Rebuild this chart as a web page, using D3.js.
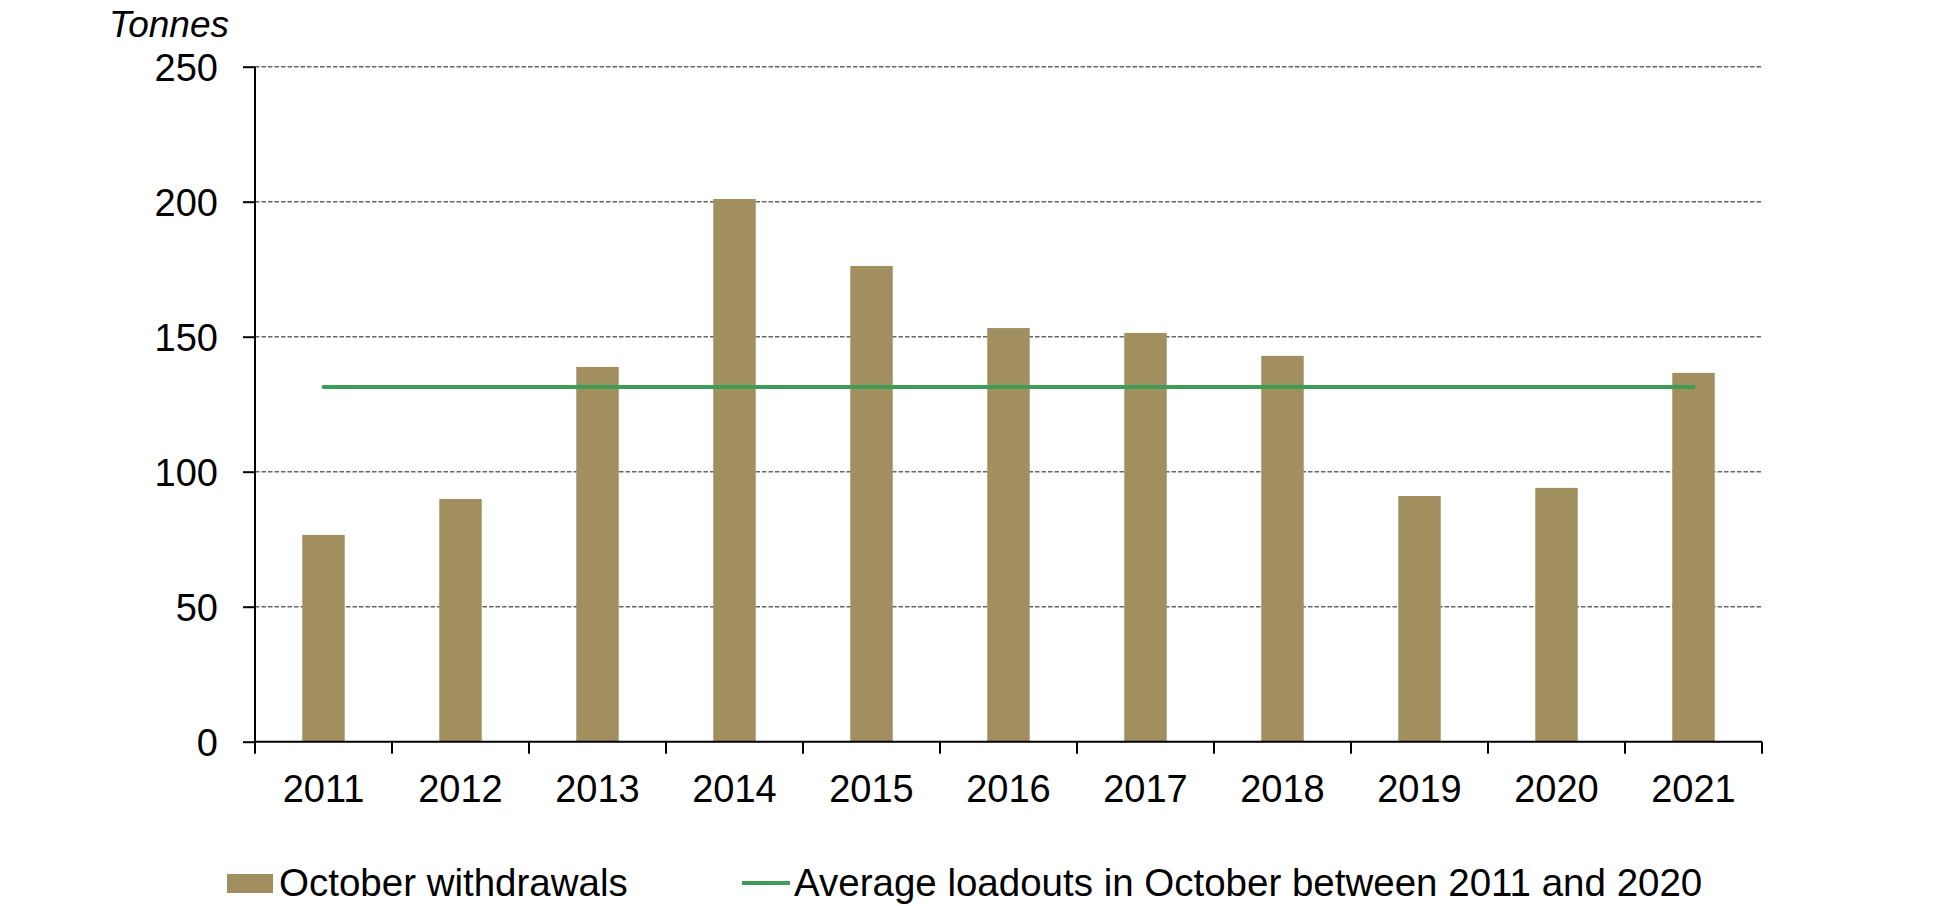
<!DOCTYPE html>
<html>
<head>
<meta charset="utf-8">
<script src="https://cdn.jsdelivr.net/npm/d3@7"></script>
<style>
  body { margin: 0; background: #fff; }
  text { font-family: "Liberation Sans", Arial, sans-serif; fill: #000; }
</style>
</head>
<body>
<div id="chart"></div>
<script>
// datos
const years = ["2011", "2012", "2013", "2014", "2015", "2016", "2017", "2018", "2019", "2020", "2021"];
const withdrawals = [76.6, 89.9, 138.8, 201, 176.2, 153.2, 151.4, 142.9, 91.0, 94.0, 136.6];
const averageLoadouts = 131.4;
const yTicks = [0, 50, 100, 150, 200, 250];

const width = 1938, height = 906;
const plotLeft = 255, plotRight = 1762, plotTop = 66.7, plotBottom = 741.7;

const svg = d3.select("#chart").append("svg")
  .attr("width", width)
  .attr("height", height);

const x = d3.scaleBand()
  .domain(years)
  .range([plotLeft, plotRight])
  .paddingInner(0.69)
  .paddingOuter(0.345);

const y = d3.scaleLinear()
  .domain([0, 250])
  .range([plotBottom, plotTop]);

// lineas de cuadricula
svg.append("g")
  .selectAll("line")
  .data(yTicks.filter(d => d > 0))
  .enter().append("line")
  .attr("x1", plotLeft).attr("x2", plotRight)
  .attr("y1", d => y(d)).attr("y2", d => y(d))
  .attr("stroke", "#666")
  .attr("stroke-width", 1.5)
  .attr("stroke-dasharray", "4.5,2");

// barras
svg.append("g")
  .selectAll("rect")
  .data(years)
  .enter().append("rect")
  .attr("x", d => x(d))
  .attr("y", (d, i) => y(withdrawals[i]))
  .attr("width", x.bandwidth())
  .attr("height", (d, i) => y(0) - y(withdrawals[i]))
  .attr("fill", "#a28f5f");

// linea del promedio
const center = d => x(d) + x.bandwidth() / 2;
svg.append("path")
  .datum([years[0], years[years.length - 1]])
  .attr("d", d3.line().x(d => center(d)).y(() => y(averageLoadouts)))
  .attr("stroke", "#3d9c55")
  .attr("stroke-width", 4)
  .attr("stroke-linecap", "round")
  .attr("fill", "none");

// eje y
const yAxis = svg.append("g")
  .attr("transform", `translate(${plotLeft},0)`)
  .call(d3.axisLeft(y).tickValues(yTicks).tickSize(12).tickPadding(25));
yAxis.selectAll("path, line").attr("stroke", "#000").attr("stroke-width", 2);
yAxis.select(".domain").attr("d", `M0,${plotTop}V${plotBottom}`);
yAxis.selectAll("text").style("font-size", "38px").attr("dy", "0.36em");

// eje x: marcas en los limites de cada categoria
const step = x.step();
const xTickPos = d3.range(years.length + 1).map(i => plotLeft + i * step);
const xAxis = svg.append("g");
xAxis.append("line")
  .attr("x1", plotLeft).attr("x2", plotRight)
  .attr("y1", plotBottom).attr("y2", plotBottom)
  .attr("stroke", "#000").attr("stroke-width", 2);
xAxis.selectAll(".tick")
  .data(xTickPos)
  .enter().append("line")
  .attr("x1", d => d).attr("x2", d => d)
  .attr("y1", plotBottom).attr("y2", plotBottom + 12)
  .attr("stroke", "#000").attr("stroke-width", 2);
xAxis.selectAll("text")
  .data(years)
  .enter().append("text")
  .attr("x", d => center(d))
  .attr("y", 802)
  .attr("text-anchor", "middle")
  .style("font-size", "38px")
  .text(d => d);

// titulo del eje
svg.append("text")
  .attr("x", 109)
  .attr("y", 37)
  .style("font-size", "37px")
  .style("font-style", "italic")
  .text("Tonnes");

// leyenda
const legend = svg.append("g");
legend.append("rect")
  .attr("x", 227).attr("y", 874)
  .attr("width", 46).attr("height", 19)
  .attr("fill", "#a28f5f");
legend.append("text")
  .attr("x", 279).attr("y", 896)
  .style("font-size", "38.5px")
  .text("October withdrawals");
legend.append("line")
  .attr("x1", 742).attr("x2", 790)
  .attr("y1", 883).attr("y2", 883)
  .attr("stroke", "#3d9c55").attr("stroke-width", 4);
legend.append("text")
  .attr("x", 794).attr("y", 896)
  .style("font-size", "38.5px")
  .text("Average loadouts in October between 2011 and 2020");
</script>
</body>
</html>
